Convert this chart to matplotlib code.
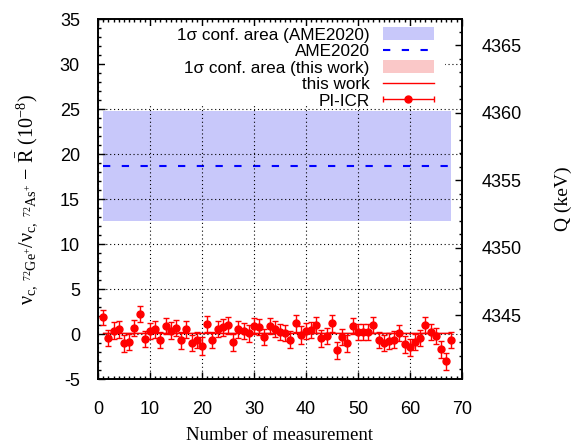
import numpy as np
import matplotlib
matplotlib.use('Agg')
import matplotlib.pyplot as plt
import matplotlib.ticker as ticker
from matplotlib.patches import Patch, Rectangle
from matplotlib.lines import Line2D
from matplotlib.legend_handler import HandlerErrorbar

# measurement data (10^-8)
meas_no = list(range(1, 69))
ratio_diff = [1.85, -0.4, 0.37, 0.52, -1.04, -0.85, 0.7, 2.2, -0.55, 0.37,
              0.56, -0.67, 0.89, 0.37, 0.7, -0.7, 0.52, -0.96, -0.67, -1.3,
              1.11, -0.67, 0.56, 0.74, 1.0, -0.93, 0.52, 0.37, 0.07, 0.93,
              0.81, -0.3, 0.89, 0.56, 0.26, 0.15, -0.6, 1.19, -0.1, 0.37,
              0.44, 1.0, -0.48, -0.2, 1.19, -1.78, -0.3, -1.04, 0.89, 0.26,
              0.26, 0.26, 1.04, -0.67, -0.96, -0.74, -0.6, 0.15, -1.15, -1.48,
              -0.85, -0.44, 1.0, 0.26, -0.2, -1.7, -3.0, -0.67]
ratio_err = [0.85, 0.9, 0.95, 0.95, 0.9, 0.9, 0.9, 0.9, 0.9, 0.9,
             0.95, 0.9, 0.9, 0.95, 0.9, 0.9, 0.95, 0.9, 0.9, 1.0,
             0.9, 0.9, 0.9, 0.95, 0.95, 0.9, 0.9, 0.9, 0.9, 0.9,
             0.9, 0.9, 0.9, 0.9, 0.9, 0.9, 0.9, 0.9, 0.95, 0.9,
             0.9, 0.9, 0.9, 0.9, 0.95, 0.95, 0.9, 0.9, 0.9, 0.9,
             0.9, 0.9, 0.9, 0.9, 0.9, 0.9, 0.9, 0.9, 0.9, 0.95,
             0.9, 0.9, 0.9, 0.9, 0.9, 0.9, 0.95, 0.9]

ame_value = 18.67
ame_low, ame_high = 12.55, 24.85
this_work = 0.1
this_low, this_high = -0.02, 0.22

# right axis (Q in keV) limits matching left axis -5..35
q_lim = (4340.26, 4366.93)

plt.rcParams['font.family'] = 'Liberation Sans'
plt.rcParams['axes.unicode_minus'] = False
plt.rcParams['mathtext.fontset'] = 'custom'
plt.rcParams['mathtext.rm'] = 'Liberation Serif'
plt.rcParams['mathtext.it'] = 'Liberation Serif'
plt.rcParams['mathtext.bf'] = 'Liberation Serif:bold'

fig = plt.figure(figsize=(5.73, 4.46), dpi=100)
ax = fig.add_axes([0.171, 0.150, 0.635, 0.807])

x0, x1 = meas_no[0], meas_no[-1]
ax.fill_between([x0, x1], ame_low, ame_high, color='#c8c8fa', lw=0, zorder=1)
ax.plot([x0, x1], [ame_value, ame_value], color='#0000ff', lw=1.5,
        dashes=(3.5, 5.5), zorder=2)
ax.fill_between([x0, x1], this_low, this_high, color='#fac8c8', lw=0, zorder=1)
ax.plot([x0, x1], [this_work, this_work], color='#ff0000', lw=1.0, zorder=2)

ax.errorbar(meas_no, ratio_diff, yerr=ratio_err, fmt='o', color='#ff0000',
            ms=5, elinewidth=1.0, capsize=2.2, capthick=1.0, zorder=3)

ax.set_xlim(0, 70)
ax.set_ylim(-5, 35)
ax.xaxis.set_major_locator(ticker.MultipleLocator(10))
ax.xaxis.set_minor_locator(ticker.MultipleLocator(1))
ax.yaxis.set_major_locator(ticker.MultipleLocator(5))
ax.yaxis.set_minor_locator(ticker.MultipleLocator(1))
ax.tick_params(which='both', direction='in', top=True, right=False,
               labelsize=13, width=1.0)
ax.tick_params(which='major', length=5)
ax.tick_params(which='minor', length=2.5)
ax.tick_params(axis='y', pad=13)
ax.tick_params(axis='x', pad=16)

ax.set_axisbelow(False)
ax.grid(True, which='major', color='black', linestyle=(0, (1, 2.5)), lw=0.8)

for sp in ax.spines.values():
    sp.set_linewidth(1.2)

ax.set_xlabel('Number of measurement', family='Liberation Serif', fontsize=13.5,
              labelpad=6)
ax.set_ylabel(r'$\nu_{\mathrm{c},\ ^{72}\mathrm{Ge}^{+}}/\nu_{\mathrm{c},\ ^{72}\mathrm{As}^{+}}$'
              r'$\ \mathrm{-}\ \bar{\mathrm{R}}\ (10^{-8})$', fontsize=14.5, labelpad=14)

ax2 = ax.twinx()
ax2.set_ylim(*q_lim)
ax2.yaxis.set_major_locator(ticker.MultipleLocator(5))
ax2.yaxis.set_minor_locator(ticker.MultipleLocator(1))
ax2.tick_params(which='both', direction='in', labelsize=13, width=1.0, pad=14)
ax2.tick_params(which='major', length=5)
ax2.tick_params(which='minor', length=2.5)
for sp in ax2.spines.values():
    sp.set_linewidth(1.2)
ax2.set_ylabel('Q (keV)', family='Liberation Serif', fontsize=14, labelpad=24)

ax.set_zorder(ax2.get_zorder() + 1)
ax.patch.set_visible(False)

# white key box hiding the grid (gnuplot style)
ax.add_patch(Rectangle((1.4, 25.3), 65.4, 8.9, facecolor='white', edgecolor='none',
                       zorder=4))

# legend (horizontal error bar sample like gnuplot)
pi_proxy = ax.errorbar([np.nan], [np.nan], xerr=[1], fmt='o', color='#ff0000',
                       ms=5, elinewidth=1.0, capsize=2.2, capthick=1.0)
handles = [Patch(facecolor='#c8c8fa', edgecolor='none'),
           Line2D([], [], color='#0000ff', lw=1.5, dashes=(3.5, 5.5)),
           Patch(facecolor='#fac8c8', edgecolor='none'),
           Line2D([], [], color='#ff0000', lw=1.0),
           pi_proxy]
labels = ['1σ conf. area (AME2020)', 'AME2020', '1σ conf. area (this work)',
          'this work', 'PI-ICR']
leg = ax.legend(handles, labels, loc='upper right', bbox_to_anchor=(0.923, 0.978),
                borderaxespad=0, borderpad=0,
                markerfirst=False, fontsize=12.3, frameon=False,
                labelspacing=0.06, handlelength=3.0, handleheight=0.8,
                handletextpad=0.76, numpoints=1,
                handler_map={type(pi_proxy): HandlerErrorbar(xerr_size=1.5)})
leg.set_zorder(5)

fig.savefig('out.png', dpi=100)
